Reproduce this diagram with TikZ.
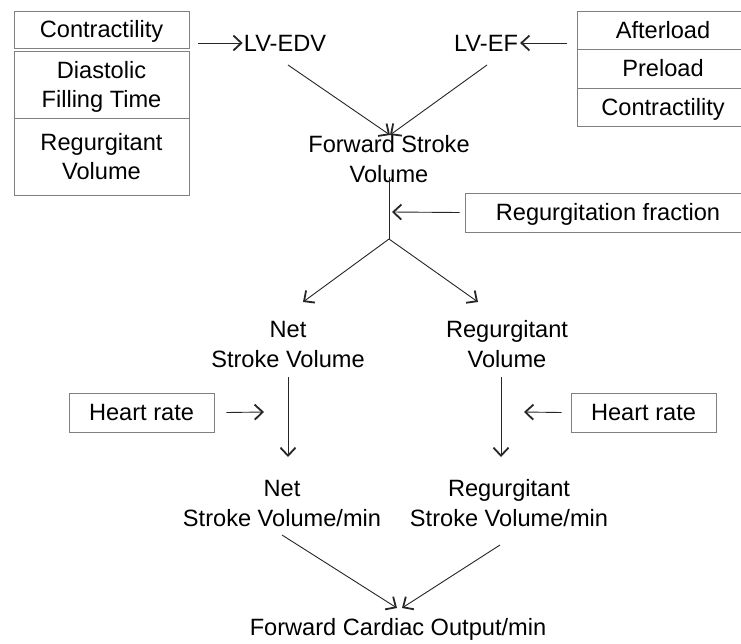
\documentclass[tikz,border=0pt]{standalone}
\usepackage{fontspec}
\setmainfont{Liberation Sans}
\usetikzlibrary{arrows.meta}
\newcommand\st{\rule[-6pt]{0pt}{28.7pt}}
\begin{document}
\begin{tikzpicture}[x=1pt,y=-1pt,
  lbl/.style={font=\fontsize{23.6}{28}\selectfont, inner sep=0pt, align=center, text=black},
  cell/.style={lbl, draw=black!50, line width=0.8pt},
  conn/.style={draw=black!85, line width=0.9pt},
  arr/.style={conn, -{Straight Barb[length=8pt,width=15pt,line width=1.8pt]}}]
\useasboundingbox (0,0) rectangle (741,643);
\clip (0,0) rectangle (741,643);
\fill[white] (0,0) rectangle (741,643);

% left group
\node[cell, minimum width=175pt, minimum height=37pt] (c1) at (101.5,29.5) {\st Contractility};
\node[cell, minimum width=175pt, minimum height=67pt] (c2) at (101.5,84.5) {\st Diastolic\\\st Filling Time};
\node[cell, minimum width=175pt, minimum height=77pt] (c3) at (101.5,156.5) {\st Regurgitant\\\st Volume};

% right group
\node[cell, minimum width=172pt, minimum height=38pt] (r1) at (663,30) {\st Afterload};
\node[cell, minimum width=172pt, minimum height=39pt] (r2) at (663,68.5) {\st Preload};
\node[cell, minimum width=172pt, minimum height=38pt] (r3) at (663,107) {\st Contractility};

\node[cell, minimum width=286pt, minimum height=39pt] (rf) at (608,212.5) {\st Regurgitation fraction};
\node[cell, minimum width=145pt, minimum height=39pt] (hr1) at (141.5,412.5) {\st Heart rate};
\node[cell, minimum width=145pt, minimum height=39pt] (hr2) at (643.5,412.5) {\st Heart rate};

% text nodes
\node[lbl] (edv) at (285,43) {\st LV-EDV};
\node[lbl] (ef) at (486,43) {\st LV-EF};
\node[lbl] (fsv) at (389,159) {\st Forward Stroke\\\st Volume};
\node[lbl] (nsv) at (288,344) {\st Net\\\st Stroke Volume};
\node[lbl] (rv) at (507,344) {\st Regurgitant\\\st Volume};
\node[lbl] (nsvm) at (282,503) {\st Net\\\st Stroke Volume/min};
\node[lbl] (rsvm) at (509,503) {\st Regurgitant\\\st Stroke Volume/min};
\node[lbl] (fco) at (398,629) {Forward Cardiac Output/min};

% coordinates
\coordinate (a1s) at (198,43);
\coordinate (edvS) at (288,65);
\coordinate (efS) at (487,65);
\coordinate (fsvN) at (390,135);
\coordinate (fsvS) at (389,177);
\coordinate (rfT) at (392,212);
\coordinate (br) at (389,239);
\coordinate (nsvN) at (303,302);
\coordinate (rvN) at (478,302);
\coordinate (nsvS) at (288,377);
\coordinate (nsvmN) at (288,457);
\coordinate (rvS) at (501,377);
\coordinate (rsvmN) at (501,457);
\coordinate (hr1T) at (264,412);
\coordinate (hr2T) at (524,412);
\coordinate (nsvmS) at (282,535);
\coordinate (rsvmS) at (500,545);
\coordinate (fcoL) at (397,608);
\coordinate (fcoR) at (402,608);

% connectors
\draw[arr] (a1s) -- ([xshift=-1pt]edv.west);
\draw[arr] ([xshift=-10pt]r1.west |- ef.east) -- ([xshift=2pt]ef.east);
\draw[arr] (edvS) -- (fsvN);
\draw[arr] (efS) -- (fsvN);
\draw[conn] (fsvS) -- (br);
\draw[arr] ([xshift=-5pt]rf.west) -- (rfT);
\draw[arr] (br) -- (nsvN);
\draw[arr] (br) -- (rvN);
\draw[arr] (nsvS) -- (nsvmN);
\draw[arr] (rvS) -- (rsvmN);
\draw[arr] ([xshift=12pt]hr1.east) -- (hr1T);
\draw[arr] ([xshift=-9pt]hr2.west) -- (hr2T);
\draw[arr] (nsvmS) -- (fcoL);
\draw[arr] (rsvmS) -- (fcoR);
\end{tikzpicture}
\end{document}
